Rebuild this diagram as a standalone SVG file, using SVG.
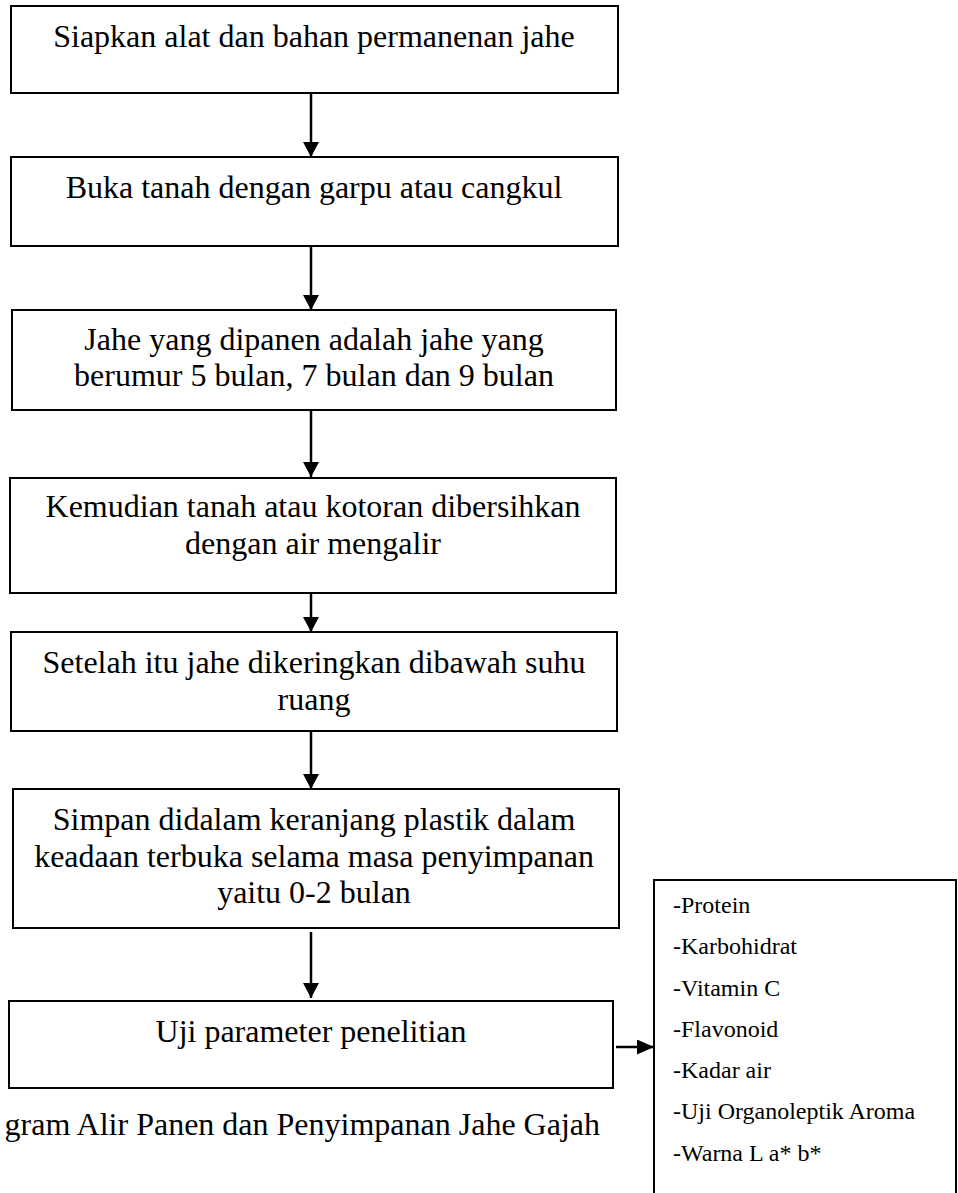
<svg xmlns="http://www.w3.org/2000/svg" width="958" height="1193" viewBox="0 0 958 1193">
<defs>
<style>
.box{fill:#fff;stroke:#000;stroke-width:2}
.t{font-family:"Liberation Serif","Times New Roman",serif;font-size:32px;fill:#000;text-anchor:middle}
.l{font-family:"Liberation Serif","Times New Roman",serif;font-size:24px;fill:#000}
.c{stroke:#000;stroke-width:2.5;fill:none}
</style>
<marker id="ah" markerWidth="15" markerHeight="16" refX="15" refY="8" orient="auto" markerUnits="userSpaceOnUse" viewBox="0 0 15 16">
<path d="M0,0 L15,8 L0,16 Z" fill="#000"/>
</marker>
<marker id="ah2" markerWidth="17" markerHeight="15" refX="17" refY="7.5" orient="auto" markerUnits="userSpaceOnUse" viewBox="0 0 17 15">
<path d="M0,0 L17,7.5 L0,15 Z" fill="#000"/>
</marker>
</defs>
<rect width="958" height="1193" fill="#fff"/>
<g id="connectors">
<line class="c" x1="311" y1="93" x2="311" y2="157" marker-end="url(#ah)"/>
<line class="c" x1="311" y1="246" x2="311" y2="310" marker-end="url(#ah)"/>
<line class="c" x1="311" y1="410" x2="311" y2="477" marker-end="url(#ah)"/>
<line class="c" x1="311" y1="567" x2="311" y2="632" marker-end="url(#ah)"/>
<line class="c" x1="311" y1="725" x2="311" y2="789" marker-end="url(#ah)"/>
<line class="c" x1="311" y1="932" x2="311" y2="998" marker-end="url(#ah)"/>
<line class="c" x1="616" y1="1047" x2="654" y2="1047" marker-end="url(#ah2)"/>
</g>
<g id="n1">
<rect class="box" x="11" y="6" width="607" height="87"/>
<text class="t" x="314" y="47">Siapkan alat dan bahan permanenan jahe</text>
</g>
<g id="n2">
<rect class="box" x="11" y="157" width="607" height="89"/>
<text class="t" x="314" y="198">Buka tanah dengan garpu atau cangkul</text>
</g>
<g id="n3">
<rect class="box" x="12" y="310" width="604" height="100"/>
<text class="t" x="314" y="350">Jahe yang dipanen adalah jahe yang</text>
<text class="t" x="314" y="386">berumur 5 bulan, 7 bulan dan 9 bulan</text>
</g>
<g id="n4">
<rect class="box" x="10" y="478" width="606" height="115"/>
<text class="t" x="313" y="517">Kemudian tanah atau kotoran dibersihkan</text>
<text class="t" x="313" y="554">dengan air mengalir</text>
</g>
<g id="n5">
<rect class="box" x="11" y="632" width="606" height="99"/>
<text class="t" x="314" y="673">Setelah itu jahe dikeringkan dibawah suhu</text>
<text class="t" x="314" y="710">ruang</text>
</g>
<g id="n6">
<rect class="box" x="13" y="789" width="606" height="139"/>
<text class="t" x="314" y="830">Simpan didalam keranjang plastik dalam</text>
<text class="t" x="314" y="867">keadaan terbuka selama masa penyimpanan</text>
<text class="t" x="314" y="903">yaitu 0-2 bulan</text>
</g>
<g id="n7">
<rect class="box" x="9" y="1001" width="604" height="87"/>
<text class="t" x="311" y="1042">Uji parameter penelitian</text>
</g>
<g id="n8">
<rect class="box" x="654" y="880" width="302" height="330"/>
<text class="l" x="673" y="913">-Protein</text>
<text class="l" x="673" y="954">-Karbohidrat</text>
<text class="l" x="673" y="996">-Vitamin C</text>
<text class="l" x="673" y="1037">-Flavonoid</text>
<text class="l" x="673" y="1078">-Kadar air</text>
<text class="l" x="673" y="1119">-Uji Organoleptik Aroma</text>
<text class="l" x="673" y="1161">-Warna L a* b*</text>
</g>
<g id="caption">
<text class="t" x="600" y="1135" style="text-anchor:end">gram Alir Panen dan Penyimpanan Jahe Gajah</text>
</g>
</svg>
